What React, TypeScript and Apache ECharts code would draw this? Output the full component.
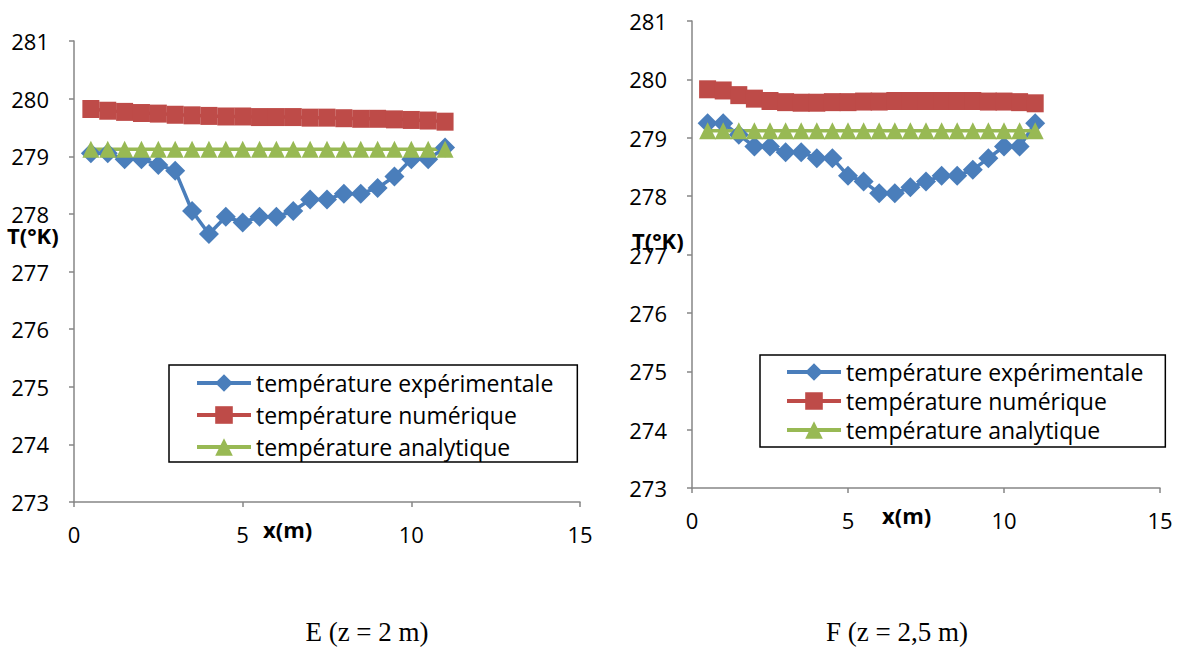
import React, { useEffect, useRef } from "react";
import * as echarts from "echarts";

const xPositions = [0.5, 1, 1.5, 2, 2.5, 3, 3.5, 4, 4.5, 5, 5.5, 6, 6.5, 7, 7.5, 8, 8.5, 9, 9.5, 10, 10.5, 11];

const seriesNames = ["température expérimentale", "température numérique", "température analytique"];

// Chart E (z = 2 m)
const expE = [279.05, 279.05, 278.95, 278.95, 278.85, 278.75, 278.05, 277.65, 277.95, 277.85, 277.95, 277.95, 278.05, 278.25, 278.25, 278.35, 278.35, 278.45, 278.65, 278.95, 278.95, 279.15];
const numE = [279.82, 279.79, 279.77, 279.75, 279.74, 279.72, 279.71, 279.70, 279.69, 279.69, 279.68, 279.68, 279.68, 279.67, 279.67, 279.66, 279.65, 279.65, 279.64, 279.63, 279.62, 279.60];
const anaE = [279.12, 279.12, 279.12, 279.12, 279.12, 279.12, 279.12, 279.12, 279.12, 279.12, 279.12, 279.12, 279.12, 279.12, 279.12, 279.12, 279.12, 279.12, 279.12, 279.12, 279.12, 279.12];

// Chart F (z = 2,5 m)
const expF = [279.25, 279.25, 279.05, 278.85, 278.85, 278.75, 278.75, 278.65, 278.65, 278.35, 278.25, 278.05, 278.05, 278.15, 278.25, 278.35, 278.35, 278.45, 278.65, 278.85, 278.85, 279.25];
const numF = [279.83, 279.81, 279.73, 279.67, 279.63, 279.61, 279.60, 279.60, 279.61, 279.61, 279.62, 279.62, 279.63, 279.63, 279.63, 279.63, 279.63, 279.63, 279.62, 279.62, 279.61, 279.59];
const anaF = [279.12, 279.12, 279.12, 279.12, 279.12, 279.12, 279.12, 279.12, 279.12, 279.12, 279.12, 279.12, 279.12, 279.12, 279.12, 279.12, 279.12, 279.12, 279.12, 279.12, 279.12, 279.12];

const yMin = 273;
const yMax = 281;
const xMin = 0;
const xMax = 15;

const captions = ["E (z = 2 m)", "F (z = 2,5 m)"];
const yAxisTitle = "T(°K)";
const xAxisTitle = "x(m)";

const colors = ["#4A7EBB", "#BE4B48", "#98B954"];
const symbols = ["diamond", "rect", "triangle"];
const symbolSizes: any[] = [[20, 20], [17, 18], [17, 17]];

const FONT = "'Open Sans', sans-serif";

function pairs(ys: number[]) {
  return xPositions.map((x, i) => [x, ys[i]]);
}

export default function App() {
  const ref = useRef<HTMLDivElement>(null);
  useEffect(() => {
    if (!ref.current) return;
    const chart = echarts.init(ref.current, null, { renderer: "svg" });
    const axisLine = { show: true, lineStyle: { color: "#868686", width: 1.5 } };
    const axisTick = { show: true, length: 5, lineStyle: { color: "#868686", width: 1.5 } };
    const mkX = (gi: number, margin: number) => ({
      type: "value",
      gridIndex: gi,
      min: xMin,
      max: xMax,
      interval: 5,
      axisLine: { ...axisLine, onZero: false },
      axisTick,
      splitLine: { show: false },
      axisLabel: { color: "#000", fontSize: 22, fontFamily: FONT, margin },
    });
    const mkY = (gi: number) => ({
      type: "value",
      gridIndex: gi,
      min: yMin,
      max: yMax,
      interval: 1,
      axisLine: { ...axisLine, onZero: false },
      axisTick,
      splitLine: { show: false },
      axisLabel: { color: "#000", fontSize: 22, fontFamily: FONT, margin: 25 },
    });
    const dataSets = [
      [expE, numE, anaE],
      [expF, numF, anaF],
    ];
    const series: any[] = [];
    dataSets.forEach((set, gi) => {
      set.forEach((ys, si) => {
        series.push({
          type: "line",
          name: seriesNames[si],
          xAxisIndex: gi,
          yAxisIndex: gi,
          data: pairs(ys),
          symbol: symbols[si],
          symbolSize: symbolSizes[si],
          showSymbol: true,
          lineStyle: { color: colors[si], width: 3.5 },
          itemStyle: { color: colors[si] },
          emphasis: { disabled: true },
        });
      });
    });
    const legendBase = {
      orient: "vertical",
      data: seriesNames,
      itemWidth: 54,
      itemHeight: 22,
      borderColor: "#000",
      borderWidth: 1.5,
      borderRadius: 0,
      backgroundColor: "#fff",
      lineStyle: { width: 4 },
      textStyle: { color: "#000", fontSize: 23, fontFamily: FONT, lineHeight: 26 },
      selectedMode: false,
    };
    chart.setOption({
      animation: false,
      backgroundColor: "#fff",
      grid: [
        { left: 74, top: 41, width: 506, height: 461, containLabel: false },
        { left: 692, top: 21, width: 468, height: 467, containLabel: false },
      ],
      xAxis: [mkX(0, 21), mkX(1, 21)],
      yAxis: [mkY(0), mkY(1)],
      legend: [
        { ...legendBase, left: 169, top: 365, itemGap: 6, padding: [5, 24, 2, 26] },
        { ...legendBase, left: 760, top: 355, itemGap: 3, padding: [4, 22, 4, 25] },
      ],
      graphic: [
        { type: "text", left: 7, top: 224, style: { text: yAxisTitle, font: `bold 22px ${FONT}`, fill: "#000" } },
        { type: "text", left: 632, top: 229, style: { text: yAxisTitle, font: `bold 22px ${FONT}`, fill: "#000" } },
        { type: "text", left: 263, top: 518, style: { text: xAxisTitle, font: `bold 22px ${FONT}`, fill: "#000" } },
        { type: "text", left: 882, top: 504, style: { text: xAxisTitle, font: `bold 22px ${FONT}`, fill: "#000" } },
        { type: "text", x: 367, y: 632, style: { text: captions[0], font: "27px 'Liberation Serif', serif", fill: "#000", align: "center", verticalAlign: "middle" } },
        { type: "text", x: 897, y: 632, style: { text: captions[1], font: "27px 'Liberation Serif', serif", fill: "#000", align: "center", verticalAlign: "middle" } },
      ],
      series,
    });
    return () => chart.dispose();
  }, []);
  return (
    <div
      ref={ref}
      style={{ position: "absolute", left: 0, top: 0, width: 1179, height: 647, background: "#fff" }}
    />
  );
}
